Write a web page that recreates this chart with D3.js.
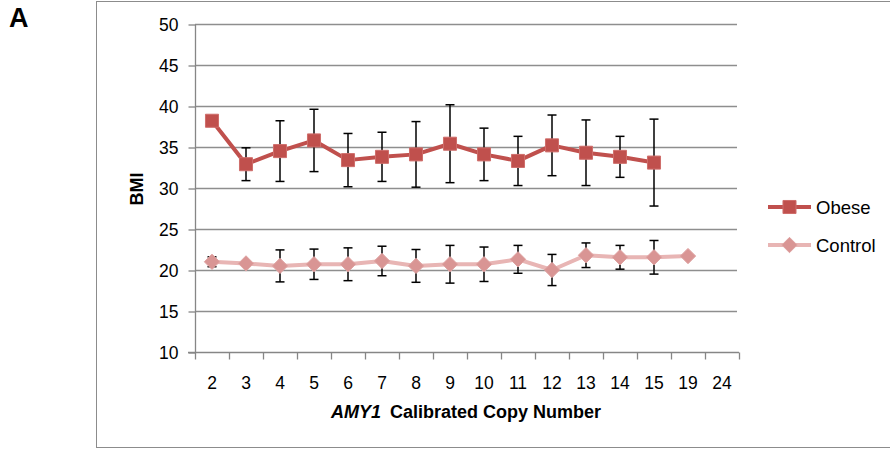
<!DOCTYPE html>
<html lang="en">

<head>
  <meta charset="UTF-8">
  <title>BMI by AMY1 copy number</title>
  <style>
    body { margin: 0; background: #fff; }
    text { font-family: "Liberation Sans", Arial, sans-serif; }
  </style>
</head>

<body>
  <svg class="line-chart"></svg>
  <script src="https://cdn.jsdelivr.net/npm/d3@7"></script>
  <script>
    // copy numbers on the x axis
    let categories = ['2', '3', '4', '5', '6', '7', '8', '9', '10', '11', '12', '13', '14', '15', '19', '24']
    let yTicks = [10, 15, 20, 25, 30, 35, 40, 45, 50]

    // mean BMI and error (+/-), null = no bar
    let obeseCats = ['2', '3', '4', '5', '6', '7', '8', '9', '10', '11', '12', '13', '14', '15']
    let obeseMean = [38.2, 32.9, 34.5, 35.8, 33.4, 33.8, 34.1, 35.4, 34.1, 33.3, 35.2, 34.3, 33.8, 33.1]
    let obeseErr = [null, 2.0, 3.7, 3.8, 3.25, 3.0, 4.0, 4.75, 3.2, 3.0, 3.7, 4.0, 2.5, 5.3]

    let controlCats = ['2', '3', '4', '5', '6', '7', '8', '9', '10', '11', '12', '13', '14', '15', '19']
    let controlMean = [21.0, 20.8, 20.5, 20.7, 20.7, 21.1, 20.5, 20.7, 20.7, 21.3, 20.0, 21.8, 21.55, 21.55, 21.7]
    let controlErr = [0.6, null, 1.95, 1.85, 2.0, 1.8, 2.0, 2.3, 2.1, 1.7, 1.9, 1.5, 1.45, 2.05, null]

    let svgWidth = 890, svgHeight = 451
    let svg = d3.select('svg')
      .attr('width', svgWidth)
      .attr('height', svgHeight)

    // outer frame
    svg.append('rect')
      .attr('x', 96.5).attr('y', 1.5)
      .attr('width', 900).attr('height', 446)
      .attr('fill', 'none').attr('stroke', '#8c8c8c').attr('stroke-width', 1)

    svg.append('text')
      .attr('x', 9).attr('y', 27)
      .attr('font-size', 27).attr('font-weight', 'bold')
      .text('A')

    let x = d3.scaleBand().domain(categories).range([195, 739])
    let y = d3.scaleLinear().domain([10, 50]).range([352, 24])
    let cx = d => x(d) + x.bandwidth() / 2

    // gridlines
    svg.append('g')
      .selectAll('line')
      .data(yTicks.slice(1))
      .enter()
      .append('line')
      .attr('x1', 195).attr('x2', 737)
      .attr('y1', d => Math.round(y(d)) + 0.5).attr('y2', d => Math.round(y(d)) + 0.5)
      .attr('stroke', '#8e8e8e').attr('stroke-width', 1.3)

    // y axis
    let yAxis = svg.append('g')
      .attr('transform', 'translate(195.5,0.5)')
      .call(d3.axisLeft(y).tickValues(yTicks).tickSize(7).tickPadding(10))
    yAxis.selectAll('path, line').attr('stroke', '#868686').attr('stroke-width', 1.3)
    yAxis.select('.domain').attr('d', 'M0,' + Math.round(y(50)) + 'V' + Math.round(y(10)))
    yAxis.selectAll('text').attr('font-size', 17.5).attr('fill', '#000')
      .style('font-family', '"Liberation Sans", Arial, sans-serif')

    // x axis, ticks on the category boundaries
    let xAxis = svg.append('g')
      .attr('transform', 'translate(0,' + (Math.round(y(10)) + 0.5) + ')')
    xAxis.append('line')
      .attr('x1', 188).attr('x2', 739)
      .attr('stroke', '#868686').attr('stroke-width', 1.3)
    xAxis.selectAll('.tick')
      .data(categories.concat(['end']))
      .enter()
      .append('line')
      .attr('x1', d => Math.round(d === 'end' ? x.range()[1] : x(d)) + 0.5)
      .attr('x2', d => Math.round(d === 'end' ? x.range()[1] : x(d)) + 0.5)
      .attr('y1', 0).attr('y2', 7)
      .attr('stroke', '#868686').attr('stroke-width', 1.3)
    xAxis.selectAll('.label')
      .data(categories)
      .enter()
      .append('text')
      .attr('x', d => cx(d))
      .attr('y', 36)
      .attr('text-anchor', 'middle')
      .attr('font-size', 17.5)
      .text(d => d)

    // axis titles
    let xTitle = svg.append('text')
      .attr('x', 466).attr('y', 418)
      .attr('text-anchor', 'middle')
      .attr('font-size', 18).attr('font-weight', 'bold')
    xTitle.append('tspan').attr('font-style', 'italic').text('AMY1')
    xTitle.append('tspan').attr('dx', 9).text('Calibrated Copy Number')

    svg.append('text')
      .attr('transform', 'translate(143,189) rotate(-90)')
      .attr('text-anchor', 'middle')
      .attr('font-size', 18).attr('font-weight', 'bold')
      .text('BMI')

    let series = [
      { name: 'Obese', cats: obeseCats, mean: obeseMean, err: obeseErr, line: '#c0504d', fill: '#c0504d', stroke: '#cf6d6a', shape: 'square' },
      { name: 'Control', cats: controlCats, mean: controlMean, err: controlErr, line: '#e8b5b4', fill: '#d99594', stroke: '#dfa3a2', shape: 'diamond' }
    ]

    let line = d3.line()
      .x(d => cx(d.cat))
      .y(d => y(d.value))

    let marker = shape => shape === 'square'
      ? d3.symbol().type(d3.symbolSquare).size(170)
      : d3.symbol().type(d3.symbolDiamond2).size(150)

    series.forEach(s => {
      let pts = s.cats.map((c, i) => ({ cat: c, value: s.mean[i], err: s.err[i] }))
      let g = svg.append('g')

      // error bars
      let bars = g.selectAll('.err')
        .data(pts.filter(d => d.err != null))
        .enter()
        .append('g')
        .attr('stroke', '#000').attr('stroke-width', 1.5)
      bars.append('line')
        .attr('x1', d => cx(d.cat)).attr('x2', d => cx(d.cat))
        .attr('y1', d => y(d.value + d.err)).attr('y2', d => y(d.value - d.err))
      bars.append('line')
        .attr('x1', d => cx(d.cat) - 4.5).attr('x2', d => cx(d.cat) + 4.5)
        .attr('y1', d => y(d.value + d.err)).attr('y2', d => y(d.value + d.err))
      bars.append('line')
        .attr('x1', d => cx(d.cat) - 4.5).attr('x2', d => cx(d.cat) + 4.5)
        .attr('y1', d => y(d.value - d.err)).attr('y2', d => y(d.value - d.err))

      g.append('path')
        .datum(pts)
        .attr('d', line)
        .attr('fill', 'none')
        .attr('stroke', s.line)
        .attr('stroke-width', 4)
        .attr('stroke-linejoin', 'round')

      g.selectAll('.pt')
        .data(pts)
        .enter()
        .append('path')
        .attr('transform', d => `translate(${cx(d.cat)},${y(d.value)})`)
        .attr('d', marker(s.shape))
        .attr('fill', s.fill)
        .attr('stroke', s.stroke)
        .attr('stroke-width', 1)
    })

    // legend
    let legend = svg.append('g')
      .selectAll('g')
      .data(series)
      .enter()
      .append('g')
      .attr('transform', (d, i) => `translate(768,${207 + i * 38})`)
    legend.append('line')
      .attr('x1', 0).attr('x2', 43)
      .attr('stroke', d => d.line).attr('stroke-width', 4)
    legend.append('path')
      .attr('transform', 'translate(21.5,0)')
      .attr('d', d => marker(d.shape)())
      .attr('fill', d => d.fill)
      .attr('stroke', d => d.stroke)
    legend.append('text')
      .attr('x', 48).attr('y', 6.5)
      .attr('font-size', 18.5)
      .text(d => d.name)
  </script>
</body>

</html>
